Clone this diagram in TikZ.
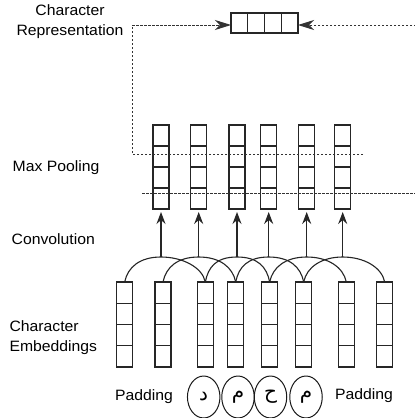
\documentclass[tikz,border=0pt]{standalone}
\usepackage{fontspec}
\setmainfont{Liberation Sans}[FakeStretch=1.05]
\newfontfamily\arabicfont[Script=Arabic]{DejaVu Sans}
\TeXXeTstate=1
\usetikzlibrary{arrows.meta,shapes.geometric}
\tikzset{
  colbox/.style={draw=black!85, line width=1.1pt, minimum width=16pt, minimum height=#1, inner sep=0pt, outer sep=0pt},
  cellline/.style={draw=black!85, line width=1.1pt},
  lbl/.style={font=\fontsize{15}{20}\selectfont, inner sep=0pt},
  dashline/.style={draw=black!80, line width=1pt, dash pattern=on 2.5pt off 1.5pt},
  arcline/.style={draw=black!85, line width=1.1pt},
  bigtip/.style={-{Stealth[length=16pt,width=10pt,inset=5pt]}},
  uptip/.style={-{Stealth[length=12pt,width=9pt,inset=4pt]}},
  charcirc/.style={ellipse, draw=black!90, line width=1pt, minimum width=32.5pt, minimum height=42pt, inner sep=0pt, font=\arabicfont\fontsize{20}{22}\selectfont}
}
\begin{document}
\begin{tikzpicture}[x=1pt,y=-1pt]
\clip (0,0) rectangle (415,418);
\fill[white] (0,0) rectangle (415,418);

% representation box
\node[colbox=20pt, minimum width=67pt] (rep) at (264.5,23) {};
\foreach \k in {1,2,3}
  \draw[cellline] ([xshift=16.75pt*\k]rep.north west) -- ([xshift=16.75pt*\k]rep.south west);

% pooling columns
\foreach \x [count=\i] in {161,198.7,237,268.7,306.7,342.7} {
  \node[colbox=84pt] (p\i) at (\x,167) {};
  \foreach \k in {1,2,3}
    \draw[cellline] ([yshift=-21pt*\k]p\i.north west) -- ([yshift=-21pt*\k]p\i.north east);
}

% embedding columns
\foreach \x [count=\i] in {124.7,163,205.3,235.7,269.7,303.7,346.3,384.7} {
  \node[colbox=85pt] (e\i) at (\x,324.5) {};
  \foreach \k in {1,2,3}
    \draw[cellline] ([yshift=-21.25pt*\k]e\i.north west) -- ([yshift=-21.25pt*\k]e\i.north east);
}

% convolution arcs and arrows
\foreach \i/\j in {1/3,2/4,3/5,4/6,5/7,6/8} {
  \coordinate (a\i) at (p\i.south |- 0,257);
  \draw[arcline] (e\i.north) .. controls +(3,-15) and +(-21,0) .. (a\i)
                 .. controls +(21,0) and +(-3,-15) .. (e\j.north);
  \draw[arcline, uptip, shorten >=3pt] (a\i) -- (p\i.south);
}

% dashed connectors
\coordinate (d1) at (363,154);
\coordinate (d2) at (132,154);
\coordinate (d3) at (132,25);
\coordinate (r1) at (142,193);
\coordinate (r2) at (425,193);
\coordinate (r3) at (425,25);
\draw[dashline, bigtip] (d1) -- (d2) -- (d3) -- (d3 -| rep.west);
\draw[dashline, bigtip] (r1) -- (r2) -- (r3) -- (r3 -| rep.east);

% characters
\node[charcirc] (c1) at (203.7,397) {\beginR د\endR};
\node[charcirc] (c2) at (238,397) {\beginR م\endR};
\node[charcirc] (c3) at (270.5,397) {\beginR ح\endR};
\node[charcirc] (c4) at (306,397) {\beginR م\endR};

% labels
\node[lbl, align=center] (lrep) at (70,22) {Character\\Representation};
\node[lbl, anchor=west] (lmax) at (12.5,168) {Max Pooling};
\node[lbl, anchor=west] (lconv) at (11.5,239) {Convolution};
\node[lbl, align=left, anchor=west] (lemb) at (9.3,337.5) {Character\\Embeddings};
\node[lbl] (pad1) at (144,397) {Padding};
\node[lbl] (pad2) at (364,396) {Padding};
\end{tikzpicture}
\end{document}
